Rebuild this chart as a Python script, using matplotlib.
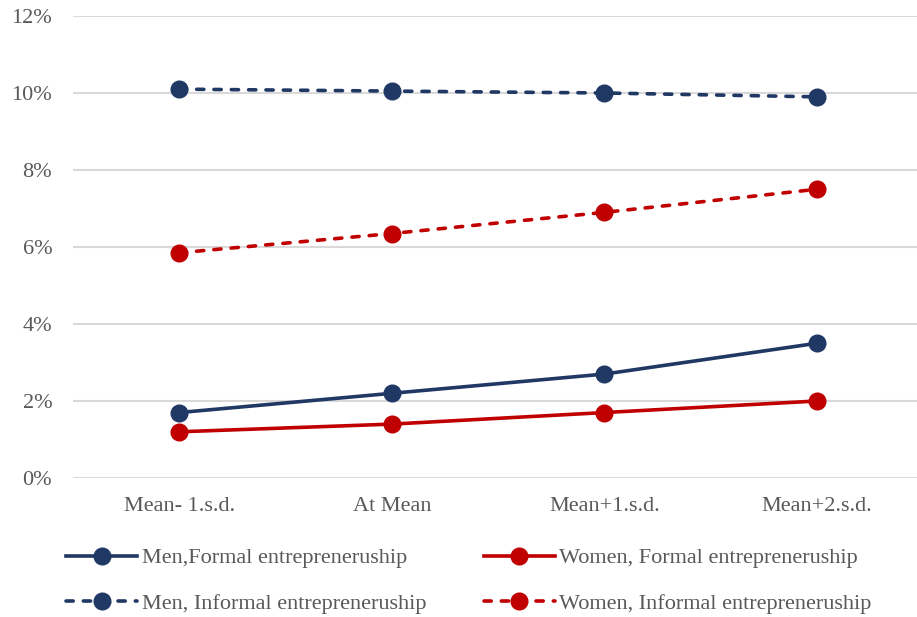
# entrepreneurship probability by gender and formality

import matplotlib.pyplot as plt
from matplotlib.ticker import FuncFormatter

levels = ["Mean- 1.s.d.", "At Mean", "Mean+1.s.d.", "Mean+2.s.d."]

men_formal = [1.7, 2.2, 2.7, 3.5]
women_formal = [1.2, 1.4, 1.7, 2.0]
men_informal = [10.1, 10.05, 10.0, 9.9]
women_informal = [5.85, 6.35, 6.9, 7.5]

navy = "#203864"
red = "#C00000"
grey_text = "#595959"

plt.rcParams["font.family"] = ["Liberation Serif", "DejaVu Serif"]

fig = plt.figure(figsize=(9.17, 6.17), dpi=100)
ax = fig.add_axes([73 / 917, 139 / 617, 844 / 917, 462 / 617])

x = range(len(levels))
dash = (0, (2, 2.8))
ax.plot(x, men_formal, color=navy, lw=2.6, marker="o", ms=12, label="Men,Formal entrepreneruship")
ax.plot(x, women_formal, color=red, lw=2.6, marker="o", ms=12, label="Women, Formal entrepreneruship")
ax.plot(x, men_informal, color=navy, lw=2.6, ls=dash, dash_capstyle="round",
        marker="o", ms=12, label="Men, Informal entrepreneruship")
ax.plot(x, women_informal, color=red, lw=2.6, ls=dash, dash_capstyle="round",
        marker="o", ms=12, label="Women, Informal entrepreneruship")

ax.set_xlim(-0.5, 3.47)
ax.set_ylim(0, 12)
ax.set_yticks(range(0, 13, 2))
ax.yaxis.set_major_formatter(FuncFormatter(lambda v, p: f"{v:.0f}%"))
ax.set_xticks(list(x))
ax.set_xticklabels(levels)
ax.grid(axis="y", color="#D9D9D9", lw=1.5)
ax.set_axisbelow(True)
for s in ax.spines.values():
    s.set_visible(False)
ax.tick_params(length=0, labelsize=16, colors=grey_text, pad=14)
ax.tick_params(axis="y", pad=15)

handles, labels = ax.get_legend_handles_labels()
order = [0, 2, 1, 3]
fig.legend([handles[i] for i in order], [labels[i] for i in order],
           loc="lower left", bbox_to_anchor=(46 / 917, -17 / 617), ncol=2, frameon=False,
           fontsize=16, labelcolor=grey_text, handlelength=3.2, handletextpad=0.2,
           columnspacing=2.6, labelspacing=1.13)

fig.savefig("out.png")
